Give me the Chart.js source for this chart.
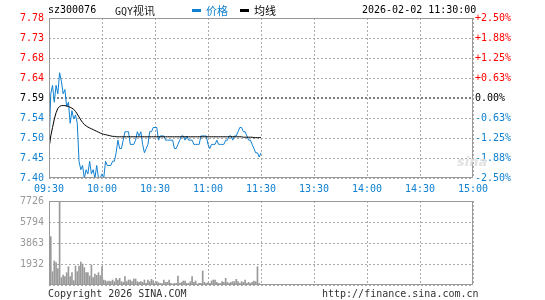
<!DOCTYPE html>
<html>
<head>
<meta charset="utf-8">
<script src="https://cdn.jsdelivr.net/npm/chart.js@4.4.1/dist/chart.umd.min.js"></script>
<style>
  body { margin: 0; background: #fff; width: 545px; height: 300px; overflow: hidden; position: relative;
         font-family: "DejaVu Sans Mono", monospace; font-size: 10px; }
  canvas { position: absolute; left: 0; }
  #priceChart { top: 0; }
  #volChart { top: 190px; }
  .t { position: absolute; white-space: nowrap; line-height: 12px; }
  .cjk { font-family: "Noto Sans CJK SC", sans-serif; font-size: 11px; }
  .dash { position: absolute; width: 9px; height: 3px; }
</style>
</head>
<body>
<canvas id="priceChart" width="545" height="198"></canvas>
<canvas id="volChart" width="545" height="110"></canvas>

<div class="t" style="left:48px;top:4px;color:#000">sz300076</div>
<div class="t" style="left:115px;top:4px;color:#222">GQY<span class="cjk">视讯</span></div>
<div class="dash" style="left:192px;top:9px;background:#1080d0"></div>
<div class="t cjk" style="left:206px;top:4px;color:#1080d0">价格</div>
<div class="dash" style="left:240px;top:9px;background:#000"></div>
<div class="t cjk" style="left:254px;top:4px;color:#000">均线</div>
<div class="t" style="left:362px;top:4px;color:#000">2026-02-02 11:30:00</div>
<div class="t" style="left:457px;top:154px;color:#e2e2e2;font:italic bold 13px 'DejaVu Sans',sans-serif">sina</div>
<div class="t" style="left:48px;top:288px;color:#333">Copyright 2026 SINA.COM</div>
<div class="t" style="left:322px;top:288px;color:#333">http://finance.sina.com.cn</div>

<script>
// 分时数据 09:30 - 11:30
const prevClose = 7.59;
const timeTicks = [0, 30, 60, 90, 120, 150, 180, 210, 240];
const timeLabels = ['09:30', '10:00', '10:30', '11:00', '11:30', '13:30', '14:00', '14:30', '15:00'];
const pctSteps = [2.5, 1.875, 1.25, 0.625, 0, -0.625, -1.25, -1.875, -2.5];
const priceLabels = ['7.78', '7.73', '7.68', '7.64', '7.59', '7.54', '7.50', '7.45', '7.40'];
const pctLabels = ['+2.50%', '+1.88%', '+1.25%', '+0.63%', '0.00%', '-0.63%', '-1.25%', '-1.88%', '-2.50%'];
const volTicks = [0, 1932, 3863, 5794, 7726];

const price = [
  7.47, 7.60, 7.62, 7.58, 7.62, 7.60, 7.65, 7.63, 7.60, 7.61,
  7.57, 7.58, 7.53, 7.56, 7.54, 7.55, 7.53, 7.44, 7.42, 7.43,
  7.40, 7.42, 7.41, 7.44, 7.41, 7.42, 7.40, 7.43, 7.40, 7.40,
  7.41, 7.40, 7.44, 7.43, 7.43, 7.43, 7.44, 7.44, 7.46, 7.49,
  7.47, 7.47, 7.49, 7.51, 7.51, 7.51, 7.48, 7.48, 7.48, 7.49,
  7.51, 7.50, 7.51, 7.48, 7.46, 7.47, 7.48, 7.51, 7.51, 7.52,
  7.52, 7.52, 7.49, 7.50, 7.50, 7.50, 7.49, 7.49, 7.49, 7.49,
  7.49, 7.47, 7.47, 7.48, 7.49, 7.50, 7.50, 7.49, 7.50, 7.49,
  7.49, 7.49, 7.48, 7.48, 7.48, 7.48, 7.50, 7.50, 7.50, 7.50,
  7.48, 7.47, 7.48, 7.48, 7.48, 7.49, 7.48, 7.48, 7.48, 7.48,
  7.49, 7.49, 7.50, 7.50, 7.49, 7.50, 7.50, 7.51, 7.52, 7.52,
  7.51, 7.51, 7.50, 7.49, 7.49, 7.48, 7.47, 7.46, 7.46, 7.45,
  7.46
];

const avgPrice = [
  7.470, 7.500, 7.520, 7.540, 7.555, 7.565, 7.570, 7.572, 7.572, 7.572,
  7.571, 7.570, 7.568, 7.566, 7.563, 7.558, 7.552, 7.545, 7.538, 7.532,
  7.527, 7.524, 7.521, 7.519, 7.517, 7.515, 7.513, 7.511, 7.509, 7.507,
  7.505, 7.504, 7.503, 7.502, 7.501, 7.500, 7.499, 7.499, 7.498, 7.498,
  7.498, 7.498, 7.498, 7.498, 7.498, 7.498, 7.498, 7.498, 7.498, 7.498,
  7.498, 7.498, 7.498, 7.498, 7.498, 7.498, 7.498, 7.498, 7.498, 7.498,
  7.498, 7.498, 7.498, 7.498, 7.498, 7.498, 7.498, 7.498, 7.498, 7.498,
  7.498, 7.498, 7.498, 7.498, 7.498, 7.498, 7.498, 7.498, 7.498, 7.498,
  7.498, 7.498, 7.498, 7.498, 7.498, 7.498, 7.498, 7.498, 7.498, 7.498,
  7.498, 7.498, 7.498, 7.498, 7.498, 7.498, 7.498, 7.498, 7.498, 7.498,
  7.498, 7.498, 7.498, 7.498, 7.498, 7.498, 7.498, 7.498, 7.498, 7.498,
  7.497, 7.497, 7.497, 7.497, 7.497, 7.497, 7.496, 7.496, 7.496, 7.496,
  7.496
];

const volume = [
  1840, 4445, 1226, 2207, 2054, 1500, 7726, 674, 920, 766,
  1134, 1686, 766, 1134, 399, 1748, 1226, 1748, 2115, 1931,
  1594, 1134, 1134, 828, 1840, 674, 1012, 889, 1134, 858,
  1686, 460, 400, 307, 368, 307, 460, 307, 613, 460,
  613, 307, 245, 766, 307, 460, 460, 307, 552, 552,
  307, 245, 307, 245, 460, 150, 460, 307, 521, 400,
  150, 307, 215, 150, 120, 460, 245, 245, 460, 150,
  92, 150, 150, 828, 150, 245, 368, 368, 150, 150,
  307, 766, 245, 368, 92, 150, 150, 1288, 245, 150,
  215, 150, 368, 460, 460, 245, 150, 150, 307, 245,
  613, 245, 150, 245, 307, 307, 521, 307, 150, 307,
  245, 460, 150, 245, 150, 245, 368, 307, 1686, 150,
  60
];

const RED = '#ff0000';
const BLUE = '#1080d0';
const GRID = '#aaaaaa';
const FONT = { family: 'DejaVu Sans Mono', size: 10 };

const yMin = prevClose * (1 + pctSteps[pctSteps.length - 1] / 100);
const yMax = prevClose * (1 + pctSteps[0] / 100);
const priceTickValues = pctSteps.map(p => prevClose * (1 + p / 100));
const tickColor = ctx => ctx.index < 4 ? RED : (ctx.index === 4 ? '#000' : BLUE);

// 虚线网格 + 灰色外框
const frame = {
  id: 'frame',
  beforeDatasetsDraw(chart, args, opts) {
    const a = chart.chartArea, c = chart.ctx;
    const skip = (opts && opts.skipY) || [];
    const sx = chart.scales.x, sy = chart.scales.y;
    c.save();
    c.strokeStyle = GRID;
    c.lineWidth = 1;
    c.setLineDash([2, 2]);
    c.beginPath();
    timeTicks.forEach(v => {
      const p = Math.round(sx.getPixelForValue(v)) + 0.5;
      c.moveTo(p, a.top); c.lineTo(p, a.bottom);
    });
    sy.ticks.forEach((t, i) => {
      if (skip.includes(i)) return;
      const p = Math.round(sy.getPixelForValue(t.value)) + 0.5;
      c.moveTo(a.left, p); c.lineTo(a.right, p);
    });
    c.stroke();
    c.restore();
  },
  afterDraw(chart) {
    const a = chart.chartArea, c = chart.ctx;
    c.save();
    c.strokeStyle = '#999';
    c.lineWidth = 1;
    c.strokeRect(Math.round(a.left) + 0.5, Math.round(a.top) + 0.5,
                 Math.round(a.right - a.left) - 1, Math.round(a.bottom - a.top) - 1);
    c.restore();
  }
};

const xScale = (showLabels) => ({
  type: 'linear', min: 0, max: 240, offset: false,
  afterBuildTicks: s => { s.ticks = timeTicks.map(v => ({ value: v })); },
  afterFit: s => { s.height = showLabels ? 20 : 0; },
  grid: { display: false, drawTicks: false, offset: false },
  border: { display: false },
  ticks: {
    display: showLabels, autoSkip: false, maxRotation: 0, padding: 5,
    color: BLUE, font: FONT,
    callback: (v, i) => timeLabels[i]
  }
});

new Chart(document.getElementById('priceChart'), {
  type: 'line',
  data: {
    datasets: [
      {
        label: '均线',
        data: avgPrice.map((v, i) => ({ x: i, y: v })),
        borderColor: '#000', borderWidth: 1, pointRadius: 0, tension: 0
      },
      {
        label: '价格',
        data: price.map((v, i) => ({ x: i, y: v })),
        borderColor: BLUE, borderWidth: 1, pointRadius: 0, tension: 0
      },
      {
        label: '昨收',
        data: [{ x: 0, y: prevClose }, { x: 240, y: prevClose }],
        borderColor: '#000', borderWidth: 1, borderDash: [2, 2], pointRadius: 0
      }
    ]
  },
  options: {
    responsive: false, animation: false, devicePixelRatio: 1,
    layout: { padding: { top: 18, left: 0, right: 0, bottom: 0 } },
    plugins: { legend: { display: false }, tooltip: { enabled: false }, frame: { skipY: [4] } },
    scales: {
      x: xScale(true),
      y: {
        position: 'left', min: yMin, max: yMax,
        afterBuildTicks: s => { s.ticks = priceTickValues.map(v => ({ value: v })); },
        afterFit: s => { s.width = 49; },
        grid: { display: false, drawTicks: false },
        border: { display: false },
        ticks: { padding: 5, color: tickColor, font: FONT, callback: (v, i) => priceLabels[i] }
      },
      yR: {
        position: 'right', min: yMin, max: yMax,
        afterBuildTicks: s => { s.ticks = priceTickValues.map(v => ({ value: v })); },
        afterFit: s => { s.width = 72; },
        grid: { display: false, drawTicks: false },
        border: { display: false },
        ticks: { padding: 2, color: tickColor, font: FONT, callback: (v, i) => pctLabels[i] }
      }
    }
  },
  plugins: [frame]
});

new Chart(document.getElementById('volChart'), {
  type: 'bar',
  data: {
    datasets: [{
      label: '成交量',
      data: volume.map((v, i) => ({ x: i, y: v })),
      backgroundColor: '#999', barThickness: 1, borderWidth: 0
    }]
  },
  options: {
    responsive: false, animation: false, devicePixelRatio: 1,
    layout: { padding: { top: 11, left: 0, right: 0, bottom: 15 } },
    plugins: { legend: { display: false }, tooltip: { enabled: false }, frame: { skipY: [] } },
    scales: {
      x: xScale(false),
      y: {
        position: 'left', min: 0, max: volTicks[volTicks.length - 1],
        afterBuildTicks: s => { s.ticks = volTicks.map(v => ({ value: v })); },
        afterFit: s => { s.width = 49; },
        grid: { display: false, drawTicks: false },
        border: { display: false },
        ticks: { padding: 5, color: '#999', font: FONT, callback: v => v === 0 ? '' : String(v) }
      },
      yR: {
        position: 'right', min: 0, max: volTicks[volTicks.length - 1],
        afterFit: s => { s.width = 72; },
        grid: { display: false, drawTicks: false },
        border: { display: false },
        ticks: { display: false }
      }
    }
  },
  plugins: [frame]
});
</script>
</body>
</html>
